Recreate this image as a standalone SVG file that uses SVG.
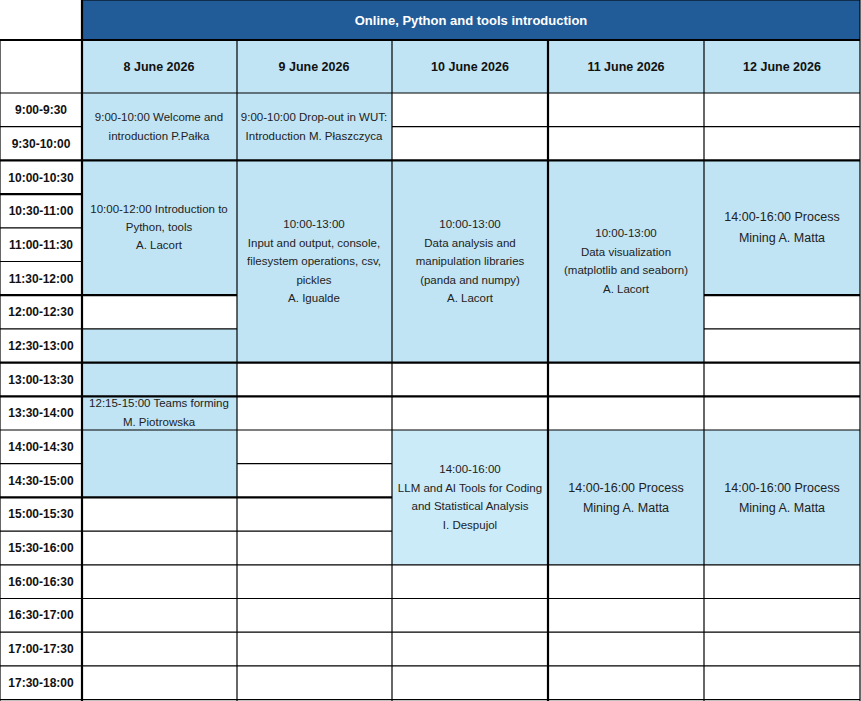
<svg xmlns="http://www.w3.org/2000/svg" width="861" height="701" viewBox="0 0 861 701">
<style>
.b{fill:#C0E4F4}.l{fill:#CBEBF9}.w{fill:#fff}
line{stroke:#000;stroke-width:1.2}
.k{stroke-width:2.2}
text{font-family:"Liberation Sans",Arial,sans-serif;font-size:11.5px;fill:#222;text-anchor:middle}
.t{font-weight:bold;font-size:12px;fill:#111}
.h{font-weight:bold;font-size:12.5px;fill:#111}
</style>
<rect width="861" height="701" fill="#fff"/>
<g id="title"><rect x="82" y="0" width="778" height="40" fill="#215C98"/><text x="471" y="25" style="fill:#fff;font-weight:bold;font-size:13px">Online, Python and tools introduction</text></g>
<g id="headers">
<rect class="b" x="82" y="40" width="778" height="53"/>
<text class="h" x="159" y="71">8 June 2026</text>
<text class="h" x="314" y="71">9 June 2026</text>
<text class="h" x="470" y="71">10 June 2026</text>
<text class="h" x="626" y="71">11 June 2026</text>
<text class="h" x="782" y="71">12 June 2026</text>
</g>
<g id="blocks">
<rect class="b" x="82" y="93" width="310" height="67.4"/>
<rect class="b" x="82" y="160.4" width="155" height="134.8"/>
<rect class="b" x="82" y="328.9" width="155" height="168.5"/>
<rect class="b" x="237" y="160.4" width="467" height="202.2"/>
<rect class="b" x="704" y="160.4" width="156" height="134.8"/>
<rect class="l" x="392" y="430" width="156" height="134.8"/>
<rect class="b" x="548" y="430" width="312" height="134.8"/>
</g>
<g id="grid">
<line x1="82" y1="0" x2="82" y2="701" class="k"/>
<line x1="0" y1="40" x2="860" y2="40" class="k"/>
<line x1="0" y1="40" x2="0" y2="701"/>
<line x1="860" y1="0" x2="860" y2="701"/>
<line x1="82" y1="0" x2="860" y2="0"/>
<line x1="237" y1="40" x2="237" y2="701"/>
<line x1="392" y1="40" x2="392" y2="701"/>
<line x1="548" y1="40" x2="548" y2="701" class="k"/>
<line x1="704" y1="40" x2="704" y2="701"/>
<line x1="0" y1="93" x2="860" y2="93"/>
<!-- time column lines -->
<line x1="0" y1="126.7" x2="82" y2="126.7"/><line x1="0" y1="160.4" x2="860" y2="160.4" class="k"/>
<line x1="0" y1="194.1" x2="82" y2="194.1" class="k"/><line x1="0" y1="227.8" x2="82" y2="227.8"/>
<line x1="0" y1="261.5" x2="82" y2="261.5"/><line x1="0" y1="295.2" x2="237" y2="295.2" class="k"/>
<line x1="704" y1="295.2" x2="860" y2="295.2" class="k"/>
<line x1="0" y1="328.9" x2="237" y2="328.9"/><line x1="704" y1="328.9" x2="860" y2="328.9"/>
<line x1="0" y1="362.6" x2="860" y2="362.6" class="k"/>
<line x1="0" y1="396.3" x2="860" y2="396.3" class="k"/>
<line x1="0" y1="430" x2="860" y2="430"/>
<line x1="0" y1="463.7" x2="82" y2="463.7"/><line x1="237" y1="463.7" x2="392" y2="463.7"/>
<line x1="0" y1="497.4" x2="392" y2="497.4" class="k"/>
<line x1="0" y1="531.1" x2="392" y2="531.1"/>
<line x1="0" y1="564.8" x2="860" y2="564.8"/>
<line x1="0" y1="598.5" x2="860" y2="598.5"/>
<line x1="0" y1="632.2" x2="860" y2="632.2"/>
<line x1="0" y1="665.9" x2="860" y2="665.9"/>
<line x1="0" y1="699.6" x2="860" y2="699.6"/>
<line x1="392" y1="126.7" x2="860" y2="126.7"/>
</g>
<g id="times">
<text class="t" x="41" y="114">9:00-9:30</text>
<text class="t" x="41" y="148">9:30-10:00</text>
<text class="t" x="41" y="182">10:00-10:30</text>
<text class="t" x="41" y="215">10:30-11:00</text>
<text class="t" x="41" y="249">11:00-11:30</text>
<text class="t" x="41" y="283">11:30-12:00</text>
<text class="t" x="41" y="316">12:00-12:30</text>
<text class="t" x="41" y="350">12:30-13:00</text>
<text class="t" x="41" y="384">13:00-13:30</text>
<text class="t" x="41" y="417">13:30-14:00</text>
<text class="t" x="41" y="451">14:00-14:30</text>
<text class="t" x="41" y="485">14:30-15:00</text>
<text class="t" x="41" y="518">15:00-15:30</text>
<text class="t" x="41" y="552">15:30-16:00</text>
<text class="t" x="41" y="586">16:00-16:30</text>
<text class="t" x="41" y="619">16:30-17:00</text>
<text class="t" x="41" y="653">17:00-17:30</text>
<text class="t" x="41" y="687">17:30-18:00</text>
</g>
<g id="events">
<text x="159" y="121">9:00-10:00 Welcome and</text><text x="159" y="140">introduction P.Pałka</text>
<text x="314" y="121">9:00-10:00 Drop-out in WUT:</text><text x="314" y="140">Introduction M. Płaszczyca</text>
<text x="159" y="213">10:00-12:00 Introduction to</text><text x="159" y="231">Python, tools</text><text x="159" y="249">A. Lacort</text>
<text x="314" y="228">10:00-13:00</text><text x="314" y="247">Input and output, console,</text><text x="314" y="265">filesystem operations, csv,</text><text x="314" y="284">pickles</text><text x="314" y="302">A. Igualde</text>
<text x="470" y="228">10:00-13:00</text><text x="470" y="247">Data analysis and</text><text x="470" y="265">manipulation libraries</text><text x="470" y="284">(panda and numpy)</text><text x="470" y="302">A. Lacort</text>
<text x="626" y="237">10:00-13:00</text><text x="626" y="256">Data visualization</text><text x="626" y="274">(matplotlib and seaborn)</text><text x="626" y="293">A. Lacort</text>
<text x="782" y="221" style="font-size:12.5px">14:00-16:00 Process</text><text x="782" y="242" style="font-size:12.5px">Mining A. Matta</text>
<text x="159" y="407">12:15-15:00 Teams forming</text><text x="159" y="426">M. Piotrowska</text>
<text x="470" y="473">14:00-16:00</text><text x="470" y="492">LLM and AI Tools for Coding</text><text x="470" y="510">and Statistical Analysis</text><text x="470" y="529">I. Despujol</text>
<text x="626" y="492" style="font-size:12.5px">14:00-16:00 Process</text><text x="626" y="512" style="font-size:12.5px">Mining A. Matta</text>
<text x="782" y="492" style="font-size:12.5px">14:00-16:00 Process</text><text x="782" y="512" style="font-size:12.5px">Mining A. Matta</text>
</g>
</svg>
